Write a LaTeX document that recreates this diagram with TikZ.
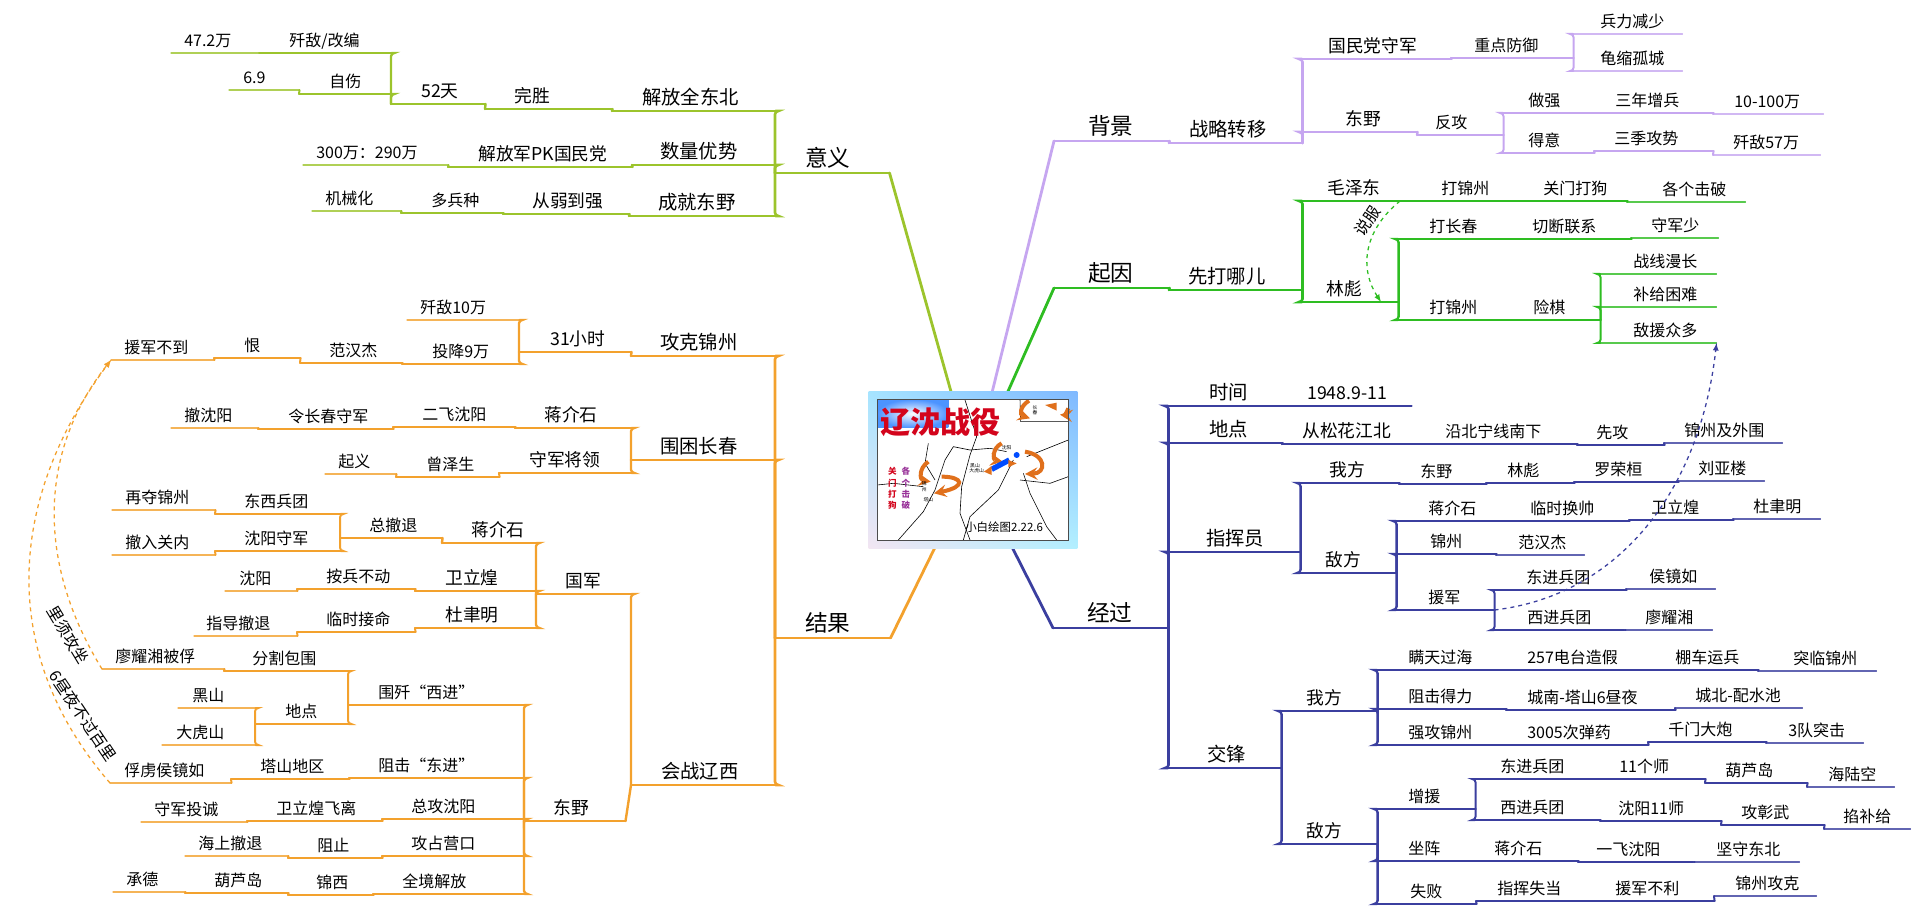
\documentclass[tikz,border=0pt]{standalone}
\usepackage{fontspec}
\usetikzlibrary{shadings}
\setmainfont{Noto Sans CJK SC}
\newlength{\pxu}
\setlength{\pxu}{.75pt}
\definecolor{bgreen}{HTML}{9CC42C}
\definecolor{bpurple}{HTML}{C6A6F0}
\definecolor{bleaf}{HTML}{2EBD22}
\definecolor{bnavy}{HTML}{3B3F9F}
\definecolor{borange}{HTML}{F3A12D}
\definecolor{mapred}{HTML}{D3041C}
\definecolor{maporange}{HTML}{E0701C}
\tikzset{
  ln1/.style={draw=br, line width=2.1pt, line cap=round},
  ln2/.style={draw=br, line width=2pt, line cap=round},
  ln3/.style={draw=br, line width=1.8pt, line cap=round},
  ln4/.style={draw=br, line width=1.5pt, line cap=round},
  ln5/.style={draw=br!80, line width=.8pt, line cap=round},
  ft1/.style={font=\fontsize{17}{20}\selectfont},
  ft2/.style={font=\fontsize{14.5}{17}\selectfont},
  ft3/.style={font=\fontsize{13.3}{16}\selectfont},
  ft4/.style={font=\fontsize{12}{14}\selectfont},
  ft5/.style={font=\fontsize{12}{14}\selectfont},
  seg/.style n args={3}{anchor=south west, inner sep=0pt, text depth=4.6pt, ft#3,
    text width=#1\pxu, align=left, execute at begin node=\hspace*{#2\pxu},
    append after command={(\tikzlastnode.south west) edge[ln#3] (\tikzlastnode.south east)}},
  elbow/.style={rounded corners=2.5pt},
  persuade/.style={dashed, line width=.95pt, -latex},
  slantlabel/.style={inner sep=0pt, ft4},
  mapline/.style={draw=black, line width=.45pt},
  maparrow/.style={draw=maporange, line width=3pt, -stealth},
  maptext/.style={inner sep=0pt, font=\fontsize{3.6}{4}\selectfont},
  mapword/.style={inner sep=0pt, font=\fontsize{6.4}{7}\selectfont\bfseries}
}

\begin{document}
\begin{tikzpicture}[x=.75pt, y=-.75pt]
  \useasboundingbox (0,0) rectangle (1920,919);
  \node[minimum width=208\pxu, minimum height=156\pxu, inner sep=0pt] (root) at (973,470) {};

  % yiyi
  \begin{scope}
    \colorlet{br}{bgreen}
    \node[seg={114}{30}{1}] (y) at (775,173) {意义};
    \node[seg={163}{30}{2}] (y1) at (612,111) {解放全东北};
    \node[seg={143}{28}{2}] (y2) at (632,165) {数量优势};
    \node[seg={146}{29}{2}] (y3) at (629,216) {成就东野};
    \node[seg={127}{29}{3}] (y11) at (485,109) {完胜};
    \node[seg={184}{30}{3}] (y21) at (448,167) {解放军PK国民党};
    \node[seg={126}{29}{3}] (y31) at (503,214) {从弱到强};
    \node[seg={94}{30}{3}] (y111) at (391,104) {52天};
    \node[seg={145}{13}{5}] (y211) at (303,165) {300万：290万};
    \node[seg={102}{30}{4}] (y311) at (401,213) {多兵种};
    \node[seg={89}{13}{5}] (y3111) at (312,211) {机械化};
    \node[seg={132}{30}{4}] (y1111) at (259,53) {歼敌/改编};
    \node[seg={88}{13}{5}] (y11111) at (171,53) {47.2万};
    \node[seg={92}{30}{4}] (y1112) at (299,94) {自伤};
    \node[seg={70}{14}{5}] (y11121) at (229,90) {6.9};
    \draw[ln1] (y.south east) -- (root);
    \draw[ln2, elbow] (y1.south east) -| (y.south west);
    \draw[ln2, elbow] (y2.south east) -| (y.south west);
    \draw[ln2, elbow] (y3.south east) -| (y.south west);
    \draw[ln3] (y11.south east) -- (y1.south west);
    \draw[ln3] (y21.south east) -- (y2.south west);
    \draw[ln3] (y31.south east) -- (y3.south west);
    \draw[ln3] (y111.south east) -- (y11.south west);
    \draw[ln4] (y211.south east) -- (y21.south west);
    \draw[ln4] (y311.south east) -- (y31.south west);
    \draw[ln4] (y3111.south east) -- (y311.south west);
    \draw[ln3, elbow] (y1111.south east) -| (y111.south west);
    \draw[ln3, elbow] (y1112.south east) -| (y111.south west);
    \draw[ln4] (y11111.south east) -- (y1111.south west);
    \draw[ln4] (y11121.south east) -- (y1112.south west);
  \end{scope}

  % beijing
  \begin{scope}
    \colorlet{br}{bpurple}
    \node[seg={115}{34}{1}] (b) at (1054,141) {背景};
    \node[seg={133}{20}{2}] (b1) at (1169,143) {战略转移};
    \node[seg={149}{26}{3}] (b11) at (1302,59) {国民党守军};
    \node[seg={122}{23}{4}] (b111) at (1451,58) {重点防御};
    \node[seg={109}{27}{5}] (b1111) at (1573,34) {兵力减少};
    \node[seg={109}{27}{5}] (b1112) at (1573,71) {龟缩孤城};
    \node[seg={115}{43}{3}] (b12) at (1302,132) {东野};
    \node[seg={86}{18}{4}] (b121) at (1417,135) {反攻};
    \node[seg={104}{25}{4}] (b1211) at (1503,113) {做强};
    \node[seg={106}{8}{4}] (b12111) at (1607,113) {三年增兵};
    \node[seg={110}{21}{5}] (b121111) at (1713,114) {10-100万};
    \node[seg={91}{25}{4}] (b1212) at (1503,153) {得意};
    \node[seg={119}{20}{4}] (b12121) at (1594,151) {三季攻势};
    \node[seg={107}{20}{5}] (b121211) at (1713,155) {歼敌57万};
    \draw[ln1] (b.south west) -- (root);
    \draw[ln2] (b1.south west) -- (b.south east);
    \draw[ln2, elbow] (b11.south west) -| (b1.south east);
    \draw[ln2, elbow] (b12.south west) -| (b1.south east);
    \draw[ln3] (b111.south west) -- (b11.south east);
    \draw[ln4, elbow] (b1111.south west) -| (b111.south east);
    \draw[ln4, elbow] (b1112.south west) -| (b111.south east);
    \draw[ln3] (b121.south west) -- (b12.south east);
    \draw[ln4, elbow] (b1211.south west) -| (b121.south east);
    \draw[ln4, elbow] (b1212.south west) -| (b121.south east);
    \draw[ln4] (b12111.south west) -- (b1211.south east);
    \draw[ln4] (b121111.south west) -- (b12111.south east);
    \draw[ln4] (b12121.south west) -- (b1212.south east);
    \draw[ln4] (b121211.south west) -- (b12121.south east);
  \end{scope}

  % qiyin
  \begin{scope}
    \colorlet{br}{bleaf}
    \node[seg={115}{34}{1}] (c) at (1054,288) {起因};
    \node[seg={133}{19}{2}] (c1) at (1169,290) {先打哪儿};
    \node[seg={113}{25}{3}] (c11) at (1302,201) {毛泽东};
    \node[seg={110}{26}{4}] (c111) at (1415,201) {打锦州};
    \node[seg={102}{18}{4}] (c1111) at (1525,201) {关门打狗};
    \node[seg={118}{35}{5}] (c11111) at (1627,202) {各个击破};
    \node[seg={96}{24}{3}] (c12) at (1302,302) {林彪};
    \node[seg={114}{31}{4}] (c121) at (1398,239) {打长春};
    \node[seg={119}{20}{4}] (c1211) at (1512,239) {切断联系};
    \node[seg={87}{20}{5}] (c12111) at (1631,238) {守军少};
    \node[seg={114}{31}{4}] (c122) at (1398,320) {打锦州};
    \node[seg={88}{21}{4}] (c1221) at (1512,320) {险棋};
    \node[seg={116}{33}{5}] (c12211) at (1600,274) {战线漫长};
    \node[seg={116}{33}{5}] (c12212) at (1600,307) {补给困难};
    \node[seg={116}{33}{5}] (c12213) at (1600,343) {敌援众多};
    \draw[ln1] (c.south west) -- (root);
    \draw[ln2] (c1.south west) -- (c.south east);
    \draw[ln2, elbow] (c11.south west) -| (c1.south east);
    \draw[ln2, elbow] (c12.south west) -| (c1.south east);
    \draw[ln4] (c111.south west) -- (c11.south east);
    \draw[ln4] (c1111.south west) -- (c111.south east);
    \draw[ln4] (c11111.south west) -- (c1111.south east);
    \draw[ln3, elbow] (c121.south west) -| (c12.south east);
    \draw[ln3, elbow] (c122.south west) -| (c12.south east);
    \draw[ln4] (c1211.south west) -- (c121.south east);
    \draw[ln4] (c12111.south west) -- (c1211.south east);
    \draw[ln4] (c1221.south west) -- (c122.south east);
    \draw[ln4, elbow] (c12211.south west) -| (c1221.south east);
    \draw[ln4, elbow] (c12212.south west) -| (c1221.south east);
    \draw[ln4, elbow] (c12213.south west) -| (c1221.south east);
    \coordinate (persuadeS) at (1400,201);
    \coordinate (persuadeE) at (1381,302);
    \draw[persuade, br] (persuadeS) .. controls (1362,232) and (1360,270) .. (persuadeE);
    \node[slantlabel, rotate=56] (persuadeL) at (1367,221) {说服};
  \end{scope}

  % jingguo
  \begin{scope}
    \colorlet{br}{bnavy}
    \node[seg={115}{34}{1}] (j) at (1053,628) {经过};
    \node[seg={114}{41}{2}] (j1) at (1168,406) {时间};
    \node[seg={129}{25}{3}] (j11) at (1282,406) {1948.9-11};
    \node[seg={114}{41}{2}] (j2) at (1168,443) {地点};
    \node[seg={145}{20}{3}] (j21) at (1282,444) {从松花江北};
    \node[seg={150}{18}{4}] (j211) at (1427,444) {沿北宁线南下};
    \node[seg={87}{19}{4}] (j2111) at (1577,445) {先攻};
    \node[seg={118}{20}{5}] (j21111) at (1664,443) {锦州及外围};
    \node[seg={132}{38}{2}] (j3) at (1168,552) {指挥员};
    \node[seg={99}{29}{3}] (j31) at (1300,483) {我方};
    \node[seg={87}{21}{4}] (j311) at (1399,484) {东野};
    \node[seg={88}{21}{4}] (j3111) at (1486,483) {林彪};
    \node[seg={104}{20}{4}] (j31111) at (1574,482) {罗荣桓};
    \node[seg={86}{20}{5}] (j311111) at (1678,481) {刘亚楼};
    \node[seg={96}{25}{3}] (j32) at (1300,573) {敌方};
    \node[seg={114}{32}{4}] (j321) at (1396,521) {蒋介石};
    \node[seg={119}{20}{4}] (j3211) at (1510,521) {临时换帅};
    \node[seg={104}{22}{4}] (j32111) at (1629,520) {卫立煌};
    \node[seg={87}{20}{5}] (j321111) at (1733,519) {杜聿明};
    \node[seg={100}{34}{4}] (j322) at (1396,554) {锦州};
    \node[seg={88}{22}{5}] (j3221) at (1496,555) {范汉杰};
    \node[seg={98}{32}{4}] (j323) at (1396,610) {援军};
    \node[seg={132}{32}{4}] (j3231) at (1494,590) {东进兵团};
    \node[seg={89}{23}{5}] (j32311) at (1626,589) {侯镜如};
    \node[seg={131}{33}{4}] (j3232) at (1494,630) {西进兵团};
    \node[seg={87}{20}{5}] (j32321) at (1625,630) {廖耀湘};
    \node[seg={113}{39}{2}] (j4) at (1168,768) {交锋};
    \node[seg={96}{25}{3}] (j41) at (1281,711) {我方};
    \node[seg={96}{25}{3}] (j42) at (1281,844) {敌方};
    \node[seg={129}{31}{4}] (j411) at (1377,670) {瞒天过海};
    \node[seg={137}{21}{4}] (j4111) at (1506,670) {257电台造假};
    \node[seg={115}{32}{4}] (j41111) at (1643,670) {棚车运兵};
    \node[seg={118}{35}{5}] (j411111) at (1758,671) {突临锦州};
    \node[seg={129}{31}{4}] (j412) at (1377,709) {阻击得力};
    \node[seg={169}{21}{4}] (j4121) at (1506,710) {城南-塔山6昼夜};
    \node[seg={127}{20}{5}] (j41211) at (1675,708) {城北-配水池};
    \node[seg={129}{31}{4}] (j413) at (1377,745) {强攻锦州};
    \node[seg={142}{21}{4}] (j4131) at (1506,745) {3005次弹药};
    \node[seg={118}{20}{4}] (j41311) at (1648,742) {千门大炮};
    \node[seg={97}{22}{5}] (j413111) at (1766,743) {3队突击};
    \node[seg={98}{31}{4}] (j421) at (1377,809) {增援};
    \node[seg={125}{25}{4}] (j4211) at (1475,779) {东进兵团};
    \node[seg={105}{19}{4}] (j42111) at (1600,779) {11个师};
    \node[seg={102}{20}{4}] (j421111) at (1705,783) {葫芦岛};
    \node[seg={87}{21}{5}] (j4211111) at (1807,787) {海陆空};
    \node[seg={125}{25}{4}] (j4212) at (1475,820) {西进兵团};
    \node[seg={121}{18}{4}] (j42121) at (1600,821) {沈阳11师};
    \node[seg={103}{20}{4}] (j421211) at (1721,825) {攻彰武};
    \node[seg={86}{19}{5}] (j4212111) at (1824,829) {掐补给};
    \node[seg={98}{31}{4}] (j422) at (1377,861) {坐阵};
    \node[seg={103}{19}{4}] (j4221) at (1475,861) {蒋介石};
    \node[seg={116}{18}{4}] (j42211) at (1578,862) {一飞沈阳};
    \node[seg={105}{22}{5}] (j422111) at (1694,862) {坚守东北};
    \node[seg={99}{33}{4}] (j423) at (1377,904) {失败};
    \node[seg={106}{21}{4}] (j4231) at (1476,901) {指挥失当};
    \node[seg={132}{33}{4}] (j42311) at (1582,901) {援军不利};
    \node[seg={102}{21}{5}] (j423111) at (1714,896) {锦州攻克};
    \draw[ln1] (j.south west) -- (root);
    \draw[ln2, elbow] (j1.south west) -| (j.south east);
    \draw[ln2, elbow] (j2.south west) -| (j.south east);
    \draw[ln2, elbow] (j3.south west) -| (j.south east);
    \draw[ln2, elbow] (j4.south west) -| (j.south east);
    \draw[ln3] (j11.south west) -- (j1.south east);
    \draw[ln3] (j21.south west) -- (j2.south east);
    \draw[ln4] (j211.south west) -- (j21.south east);
    \draw[ln4] (j2111.south west) -- (j211.south east);
    \draw[ln4] (j21111.south west) -- (j2111.south east);
    \draw[ln3, elbow] (j31.south west) -| (j3.south east);
    \draw[ln3, elbow] (j32.south west) -| (j3.south east);
    \draw[ln4] (j311.south west) -- (j31.south east);
    \draw[ln4] (j3111.south west) -- (j311.south east);
    \draw[ln4] (j31111.south west) -- (j3111.south east);
    \draw[ln4] (j311111.south west) -- (j31111.south east);
    \draw[ln3, elbow] (j321.south west) -| (j32.south east);
    \draw[ln3, elbow] (j322.south west) -| (j32.south east);
    \draw[ln3, elbow] (j323.south west) -| (j32.south east);
    \draw[ln4] (j3211.south west) -- (j321.south east);
    \draw[ln4] (j32111.south west) -- (j3211.south east);
    \draw[ln4] (j321111.south west) -- (j32111.south east);
    \draw[ln4] (j3221.south west) -- (j322.south east);
    \draw[ln4, elbow] (j3231.south west) -| (j323.south east);
    \draw[ln4, elbow] (j3232.south west) -| (j323.south east);
    \draw[ln4] (j32311.south west) -- (j3231.south east);
    \draw[ln4] (j32321.south west) -- (j3232.south east);
    \draw[ln3, elbow] (j41.south west) -| (j4.south east);
    \draw[ln3, elbow] (j42.south west) -| (j4.south east);
    \draw[ln3, elbow] (j411.south west) -| (j41.south east);
    \draw[ln3, elbow] (j412.south west) -| (j41.south east);
    \draw[ln3, elbow] (j413.south west) -| (j41.south east);
    \draw[ln4] (j4111.south west) -- (j411.south east);
    \draw[ln4] (j41111.south west) -- (j4111.south east);
    \draw[ln4] (j411111.south west) -- (j41111.south east);
    \draw[ln4] (j4121.south west) -- (j412.south east);
    \draw[ln4] (j41211.south west) -- (j4121.south east);
    \draw[ln4] (j4131.south west) -- (j413.south east);
    \draw[ln4] (j41311.south west) -- (j4131.south east);
    \draw[ln4] (j413111.south west) -- (j41311.south east);
    \draw[ln3, elbow] (j421.south west) -| (j42.south east);
    \draw[ln3, elbow] (j422.south west) -| (j42.south east);
    \draw[ln3, elbow] (j423.south west) -| (j42.south east);
    \draw[ln4, elbow] (j4211.south west) -| (j421.south east);
    \draw[ln4, elbow] (j4212.south west) -| (j421.south east);
    \draw[ln4] (j42111.south west) -- (j4211.south east);
    \draw[ln4] (j421111.south west) -- (j42111.south east);
    \draw[ln4] (j4211111.south west) -- (j421111.south east);
    \draw[ln4] (j42121.south west) -- (j4212.south east);
    \draw[ln4] (j421211.south west) -- (j42121.south east);
    \draw[ln4] (j4212111.south west) -- (j421211.south east);
    \draw[ln4] (j4221.south west) -- (j422.south east);
    \draw[ln4] (j42211.south west) -- (j4221.south east);
    \draw[ln4] (j422111.south west) -- (j42211.south east);
    \draw[ln4] (j4231.south west) -- (j423.south east);
    \draw[ln4] (j42311.south west) -- (j4231.south east);
    \draw[ln4] (j423111.south west) -- (j42311.south east);
    \draw[persuade, br] (j323.south east) .. controls (1620,595) and (1700,490) .. (c12213.south east);
  \end{scope}

  % jieguo
  \begin{scope}
    \colorlet{br}{borange}
    \node[seg={115}{30}{1}] (r) at (775,638) {结果};
    \node[seg={144}{29}{2}] (r1) at (631,356) {攻克锦州};
    \node[seg={144}{29}{2}] (r2) at (631,460) {围困长春};
    \node[seg={144}{30}{2}] (r3) at (631,785) {会战辽西};
    \node[seg={112}{31}{3}] (r11) at (519,352) {31小时};
    \node[seg={112}{13}{5}] (r111) at (407,320) {歼敌10万};
    \node[seg={117}{30}{4}] (r112) at (402,364) {投降9万};
    \node[seg={102}{29}{4}] (r1121) at (300,363) {范汉杰};
    \node[seg={86}{30}{4}] (r11211) at (214,358) {恨};
    \node[seg={103}{13}{5}] (r112111) at (111,360) {援军不到};
    \node[seg={116}{29}{3}] (r21) at (515,428) {蒋介石};
    \node[seg={122}{29}{4}] (r211) at (393,427) {二飞沈阳};
    \node[seg={135}{30}{4}] (r2111) at (258,429) {令长春守军};
    \node[seg={87}{13}{5}] (r21111) at (171,428) {撤沈阳};
    \node[seg={132}{30}{3}] (r22) at (499,473) {守军将领};
    \node[seg={103}{30}{4}] (r221) at (396,477) {曾泽生};
    \node[seg={71}{13}{5}] (r2211) at (325,474) {起义};
    \node[seg={95}{29}{3}] (r31) at (536,594) {国军};
    \node[seg={94}{29}{3}] (r311) at (442,543) {蒋介石};
    \node[seg={102}{29}{4}] (r3111) at (340,538) {总撤退};
    \node[seg={125}{29}{4}] (r31111) at (215,514) {东西兵团};
    \node[seg={103}{13}{5}] (r311111) at (112,510) {再夺锦州};
    \node[seg={125}{29}{4}] (r31112) at (215,551) {沈阳守军};
    \node[seg={103}{13}{5}] (r311121) at (112,555) {撤入关内};
    \node[seg={121}{30}{3}] (r312) at (415,591) {卫立煌};
    \node[seg={118}{29}{4}] (r3121) at (297,589) {按兵不动};
    \node[seg={72}{14}{5}] (r31211) at (225,591) {沈阳};
    \node[seg={121}{30}{3}] (r313) at (415,628) {杜聿明};
    \node[seg={118}{29}{4}] (r3131) at (297,632) {临时接命};
    \node[seg={103}{12}{5}] (r31311) at (194,636) {指导撤退};
    \node[seg={101}{29}{3}] (r32) at (524,821) {东野};
    \node[seg={176}{30}{4}] (r321) at (348,705) {围歼“西进”};
    \node[seg={124}{28}{4}] (r3211) at (224,671) {分割包围};
    \node[seg={122}{13}{5}] (r32111) at (102,669) {廖耀湘被俘};
    \node[seg={93}{30}{4}] (r3212) at (255,724) {地点};
    \node[seg={77}{14}{5}] (r32121) at (178,708) {黑山};
    \node[seg={93}{14}{5}] (r32122) at (162,745) {大虎山};
    \node[seg={175}{29}{4}] (r322) at (349,778) {阻击“东进”};
    \node[seg={118}{29}{4}] (r3221) at (231,779) {塔山地区};
    \node[seg={121}{14}{5}] (r32211) at (110,783) {俘虏侯镜如};
    \node[seg={142}{29}{4}] (r323) at (382,819) {总攻沈阳};
    \node[seg={135}{29}{4}] (r3231) at (247,821) {卫立煌飞离};
    \node[seg={106}{13}{5}] (r32311) at (141,822) {守军投诚};
    \node[seg={142}{29}{4}] (r324) at (382,856) {攻占营口};
    \node[seg={94}{29}{4}] (r3241) at (288,858) {阻止};
    \node[seg={103}{13}{5}] (r32411) at (185,856) {海上撤退};
    \node[seg={151}{29}{4}] (r325) at (373,894) {全境解放};
    \node[seg={85}{28}{4}] (r3251) at (288,895) {锦西};
    \node[seg={103}{29}{4}] (r32511) at (185,893) {葫芦岛};
    \node[seg={72}{13}{5}] (r325111) at (113,892) {承德};
    \draw[ln1] (r.south east) -- (root);
    \draw[ln2, elbow] (r1.south east) -| (r.south west);
    \draw[ln2, elbow] (r2.south east) -| (r.south west);
    \draw[ln2, elbow] (r3.south east) -| (r.south west);
    \draw[ln3] (r11.south east) -- (r1.south west);
    \draw[ln3, elbow] (r111.south east) -| (r11.south west);
    \draw[ln3, elbow] (r112.south east) -| (r11.south west);
    \draw[ln4] (r1121.south east) -- (r112.south west);
    \draw[ln4] (r11211.south east) -- (r1121.south west);
    \draw[ln4] (r112111.south east) -- (r11211.south west);
    \draw[ln3, elbow] (r21.south east) -| (r2.south west);
    \draw[ln3, elbow] (r22.south east) -| (r2.south west);
    \draw[ln4] (r211.south east) -- (r21.south west);
    \draw[ln4] (r2111.south east) -- (r211.south west);
    \draw[ln4] (r21111.south east) -- (r2111.south west);
    \draw[ln4] (r221.south east) -- (r22.south west);
    \draw[ln4] (r2211.south east) -- (r221.south west);
    \draw[ln3, elbow] (r31.south east) -| (r3.south west);
    \draw[ln3] (r32.south east) -- (r3.south west);
    \draw[ln3, elbow] (r311.south east) -| (r31.south west);
    \draw[ln3, elbow] (r312.south east) -| (r31.south west);
    \draw[ln3, elbow] (r313.south east) -| (r31.south west);
    \draw[ln3] (r3111.south east) -- (r311.south west);
    \draw[ln4, elbow] (r31111.south east) -| (r3111.south west);
    \draw[ln4, elbow] (r31112.south east) -| (r3111.south west);
    \draw[ln4] (r311111.south east) -- (r31111.south west);
    \draw[ln4] (r311121.south east) -- (r31112.south west);
    \draw[ln4] (r3121.south east) -- (r312.south west);
    \draw[ln4] (r31211.south east) -- (r3121.south west);
    \draw[ln4] (r3131.south east) -- (r313.south west);
    \draw[ln4] (r31311.south east) -- (r3131.south west);
    \draw[ln3, elbow] (r321.south east) -| (r32.south west);
    \draw[ln3, elbow] (r322.south east) -| (r32.south west);
    \draw[ln3, elbow] (r323.south east) -| (r32.south west);
    \draw[ln3, elbow] (r324.south east) -| (r32.south west);
    \draw[ln3, elbow] (r325.south east) -| (r32.south west);
    \draw[ln4, elbow] (r3211.south east) -| (r321.south west);
    \draw[ln4, elbow] (r3212.south east) -| (r321.south west);
    \draw[ln4, elbow] (r32121.south east) -| (r3212.south west);
    \draw[ln4, elbow] (r32122.south east) -| (r3212.south west);
    \draw[ln4] (r32111.south east) -- (r3211.south west);
    \draw[ln4] (r3221.south east) -- (r322.south west);
    \draw[ln4] (r32211.south east) -- (r3221.south west);
    \draw[ln4] (r3231.south east) -- (r323.south west);
    \draw[ln4] (r32311.south east) -- (r3231.south west);
    \draw[ln4] (r3241.south east) -- (r324.south west);
    \draw[ln4] (r32411.south east) -- (r3241.south west);
    \draw[ln4] (r3251.south east) -- (r325.south west);
    \draw[ln4] (r32511.south east) -- (r3251.south west);
    \draw[ln4] (r325111.south east) -- (r32511.south west);
    \draw[persuade, br] (r32111.south west) .. controls (35,560) and (40,450) .. (r112111.south west);
    \draw[persuade, br] (r32211.south west) .. controls (-5,650) and (10,496) .. (r112111.south west);
    \node[slantlabel, rotate=-59] (slowL) at (68,635) {里须攻坐};
    \node[slantlabel, rotate=-56] (nightL) at (83,716) {6昼夜不过百里};
  \end{scope}

  % picture in the middle
  \shade[upper left=blue!30!cyan!35, upper right=blue!55!cyan!50, lower left=violet!10, lower right=blue!20!cyan!30]
    (root.north west) rectangle (root.south east);
  \begin{scope}[shift={(860,380)}, scale=1/3]
    \fill[white] (52,58) rectangle (625,480);
    \shade[inner color=white, outer color=blue!60!cyan!70] (52,58) rectangle (265,143);
    \draw[mapline] (115,480) -- (190,395) -- (225,330) -- (255,240) -- (280,200) -- (330,210) -- (390,205) -- (440,215);
    \draw[mapline] (315,60) -- (350,170) -- (330,225) -- (305,320) -- (300,400) -- (330,480);
    \draw[mapline] (460,240) -- (415,330) -- (330,410) -- (310,480);
    \draw[mapline] (490,280) -- (510,340) -- (560,440) -- (590,480);
    \draw[mapline] (500,230) -- (625,180);
    \draw[mapline] (480,300) -- (570,310) -- (625,290);
    \draw[mapline] (205,190) -- (195,250) -- (225,300);
    \draw[mapline] (52,315) -- (100,310) -- (190,320);
    \draw[mapline] (480,58) -- (482,125) -- (625,125);
    \draw[maparrow] (245,290) .. controls (310,290) and (320,320) .. (222,340);
    \draw[maparrow] (205,245) .. controls (175,265) and (180,300) .. (212,305);
    \draw[maparrow] (495,215) .. controls (560,225) and (560,280) .. (495,282);
    \draw[maparrow] (425,190) .. controls (395,205) and (400,240) .. (428,245);
    \draw[maparrow] (507,62) .. controls (478,80) and (480,105) .. (510,115);
    \draw[maparrow] (625,85) .. controls (620,100) and (610,105) .. (600,104);
    \draw[blue!70!cyan, line width=4pt] (395,268) -- (448,240);
    \fill[maporange] (372,275) -- (395,258) -- (395,285) -- cycle;
    \fill[maporange] (470,250) -- (445,240) -- (445,262) -- cycle;
    \fill[maporange] (555,75) -- (590,68) -- (590,92) -- cycle;
    \fill[blue!70!cyan] (470,225) circle (9);
    \draw[black!70, line width=.5pt] (52,58) rectangle (625,480);
    \node[inner sep=0pt, anchor=west, text=mapred, font=\fontsize{22.5}{26}\selectfont\bfseries] (maptitle) at (62,128) {辽沈战役};
    \node[inner sep=0pt, anchor=west, font=\fontsize{8.6}{10}\selectfont] (mapversion) at (315,440) {小白绘图2.22.6};
    \node[mapword, text=mapred] (gm1) at (97,275) {关};
    \node[mapword, text=mapred] (gm2) at (97,310) {门};
    \node[mapword, text=mapred] (gm3) at (97,343) {打};
    \node[mapword, text=mapred] (gm4) at (97,375) {狗};
    \node[mapword, text=violet!80] (gg1) at (138,275) {各};
    \node[mapword, text=violet!80] (gg2) at (138,310) {个};
    \node[mapword, text=violet!80] (gg3) at (138,343) {击};
    \node[mapword, text=violet!80] (gg4) at (138,375) {破};
    \node[maptext] (mc) at (525,82) {长};
    \node[maptext] (md) at (525,98) {春};
    \node[maptext] (me) at (440,203) {沈阳};
    \node[maptext] (mf) at (345,258) {黑山};
    \node[maptext] (mg) at (350,272) {大虎山};
    \node[maptext] (mh) at (193,312) {锦};
    \node[maptext] (mi) at (193,330) {州};
    \node[maptext] (mj) at (205,360) {塔山};
  \end{scope}
\end{tikzpicture}
\end{document}
